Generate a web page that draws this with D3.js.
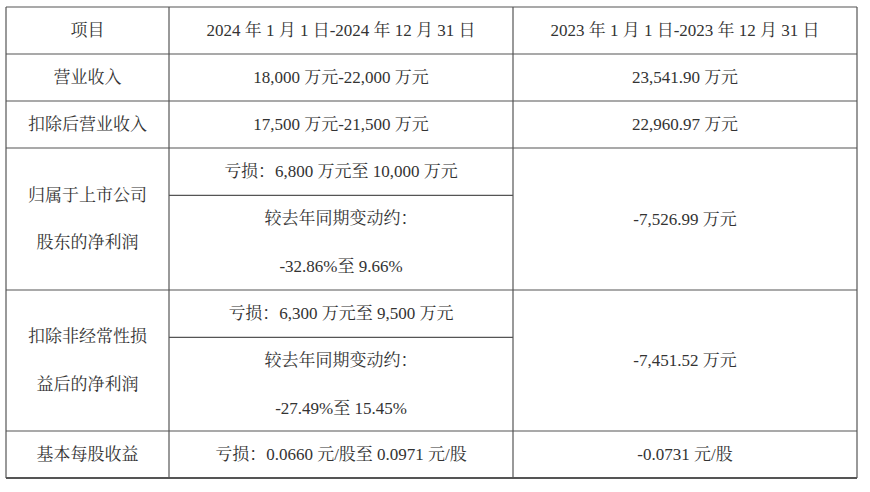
<!DOCTYPE html>
<html><head><meta charset="utf-8">
<script src="https://cdn.jsdelivr.net/npm/d3@7"></script>
<style>body{margin:0;background:#fff}text{font-family:"Liberation Serif","Noto Serif CJK SC","Noto Sans CJK SC",serif;font-size:17px;fill:#333}</style>
</head><body><svg id="c" width="870" height="492"></svg>
<script>
const headers = ["项目", "2024 年 1 月 1 日-2024 年 12 月 31 日", "2023 年 1 月 1 日-2023 年 12 月 31 日"];
const items = [["营业收入"], ["扣除后营业收入"], ["归属于上市公司", "股东的净利润"], ["扣除非经常性损", "益后的净利润"], ["基本每股收益"]];
const current = [["18,000 万元-22,000 万元"], ["17,500 万元-21,500 万元"], ["亏损：6,800 万元至 10,000 万元", "较去年同期变动约：", "-32.86%至 9.66%"], ["亏损：6,300 万元至 9,500 万元", "较去年同期变动约：", "-27.49%至 15.45%"], ["亏损：0.0660 元/股至 0.0971 元/股"]];
const prior = ["23,541.90 万元", "22,960.97 万元", "-7,526.99 万元", "-7,451.52 万元", "-0.0731 元/股"];

const svg = d3.select("#c");
const x = d3.scaleLinear().domain([0, 3]).range([6, 857]);
const colX = [6, 169, 513, 857];
const rowY = [7, 54, 101, 148, 290, 431, 478];
const unit = 47.3;
const g = svg.append("g");
const line = (x1, y1, x2, y2, w) => g.append("line").attr("x1", x1).attr("y1", y1).attr("x2", x2).attr("y2", y2).attr("stroke", "#555").attr("stroke-width", w || 1.2);
const txt = (cx, cy, s) => g.append("text").attr("x", cx).attr("y", cy).attr("text-anchor", "middle").attr("dominant-baseline", "central").text(s);
const mid = i => (colX[i] + colX[i + 1]) / 2;

rowY.forEach((y, i) => line(colX[0], y, colX[3], y, i === rowY.length - 1 ? 2.2 : 1.2));
colX.forEach(cx => line(cx, rowY[0], cx, rowY[rowY.length - 1]));
headers.forEach((h, i) => txt(mid(i), (rowY[0] + rowY[1]) / 2, h));
items.forEach((lines, r) => {
  const y0 = rowY[r + 1], y1 = rowY[r + 2], cy = (y0 + y1) / 2;
  lines.forEach((s, k) => txt(mid(0), cy + (k - (lines.length - 1) / 2) * unit, s));
  const cur = current[r];
  if (cur.length === 1) txt(mid(1), cy, cur[0]);
  else {
    line(colX[1], y0 + unit, colX[2], y0 + unit);
    txt(mid(1), y0 + unit / 2, cur[0]);
    txt(mid(1), y0 + unit * 1.5, cur[1]);
    txt(mid(1), y0 + unit * 2.5, cur[2]);
  }
  txt(mid(2), cy, prior[r]);
});
</script></body></html>
